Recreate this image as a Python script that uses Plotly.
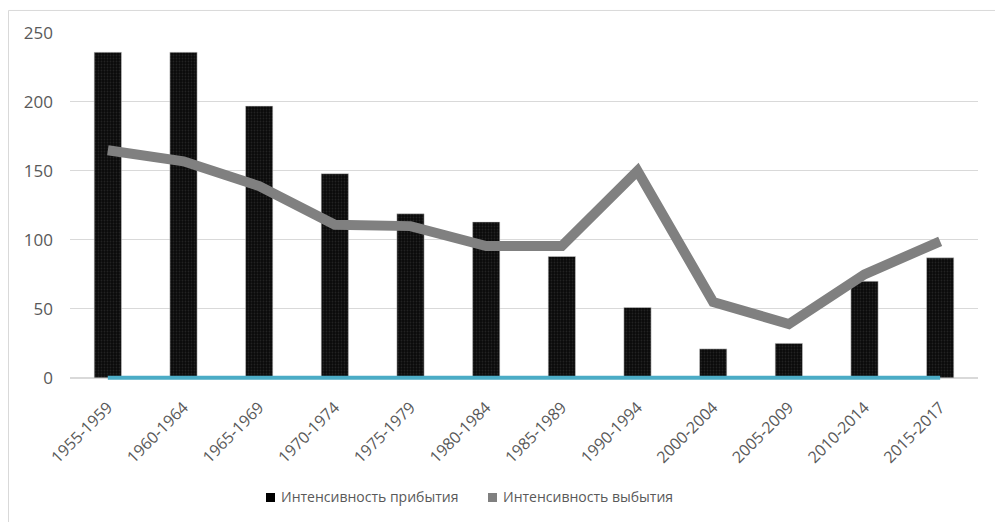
import plotly.graph_objects as go

categories = ["1955-1959", "1960-1964", "1965-1969", "1970-1974", "1975-1979", "1980-1984",
              "1985-1989", "1990-1994", "2000-2004", "2005-2009", "2010-2014", "2015-2017"]
arrival = [236, 236, 197, 148, 119, 113, 88, 51, 21, 25, 70, 87]
departure = [165, 157, 139, 111, 110, 95.5, 95.5, 150, 55, 39, 75, 99]
baseline = [0] * len(categories)
y_ticks = [0, 50, 100, 150, 200, 250]

name_arr = "Интенсивность прибытия"
name_dep = "Интенсивность выбытия"

FONT = "Open Sans"
TXT = "#595959"
C_ARR = "#000000"
C_DEP = "#808080"

fig = go.Figure()
fig.add_trace(go.Bar(
    x=categories, y=arrival, name=name_arr, showlegend=False,
    marker=dict(color="#111111", line=dict(color="#cfcfcf", width=0.5),
                pattern=dict(shape=".", fgcolor="#3a3a3a", bgcolor="#0a0a0a", size=3, solidity=0.3)),
))
fig.add_trace(go.Scatter(
    x=categories, y=baseline, mode="lines", showlegend=False,
    line=dict(color="#4bacc6", width=4), hoverinfo="skip",
))
fig.add_trace(go.Scatter(
    x=categories, y=departure, mode="lines", name=name_dep, showlegend=False,
    line=dict(color=C_DEP, width=10),
))

W, H = 995, 522
Y_TOP_PX, Y_ZERO_PX = 33, 377.5
Y_MIN, Y_MAX = -3, 250
k = (Y_ZERO_PX - Y_TOP_PX) / Y_MAX
L, R, T = 70, 17, Y_TOP_PX
B = H - (Y_ZERO_PX - Y_MIN * k)
pw, ph = W - L - R, H - T - B

def px_x(x):
    return (x - L) / pw

def px_y(y):
    return (H - B - y) / ph

# manual legend (squares + text)
leg_y = 497
legend_items = [(266, 279, name_arr, C_ARR), (488, 501, name_dep, C_DEP)]
shapes = [dict(type="rect", xref="paper", yref="paper",
               x0=px_x(8.5), x1=px_x(1010), y0=px_y(10.5), y1=px_y(540),
               line=dict(color="#d9d9d9", width=1), fillcolor="rgba(0,0,0,0)", layer="below")]
annotations = []
for sx, tx, name, col in legend_items:
    shapes.append(dict(type="rect", xref="paper", yref="paper",
                       x0=px_x(sx), x1=px_x(sx + 9), y0=px_y(leg_y - 4.5), y1=px_y(leg_y + 4.5),
                       line=dict(width=0), fillcolor=col))
    annotations.append(dict(text=name, xref="paper", yref="paper", x=px_x(tx), y=px_y(leg_y - 1),
                            xanchor="left", yanchor="middle", showarrow=False,
                            font=dict(family=FONT, size=14, color=TXT)))

fig.update_layout(
    width=W, height=H,
    margin=dict(l=L, r=R, t=T, b=B, pad=0),
    paper_bgcolor="white", plot_bgcolor="white",
    font=dict(family=FONT, color=TXT, size=14),
    bargap=0.64,
    showlegend=False,
    xaxis=dict(
        type="category", tickangle=-45, tickfont=dict(family=FONT, size=16, color=TXT),
        showgrid=False, showline=False,
        ticks="", zeroline=False, ticklabelstandoff=12,
    ),
    yaxis=dict(
        range=[Y_MIN, Y_MAX], tickvals=y_ticks, ticktext=[str(v) for v in y_ticks],
        tickfont=dict(family=FONT, size=17, color=TXT),
        showgrid=True, gridcolor="#d9d9d9", gridwidth=1,
        zeroline=True, zerolinecolor="#d9d9d9", zerolinewidth=1.5,
        showline=False, ticks="", ticklabelstandoff=16,
    ),
    shapes=shapes,
    annotations=annotations,
)

fig.write_html("out.html")
